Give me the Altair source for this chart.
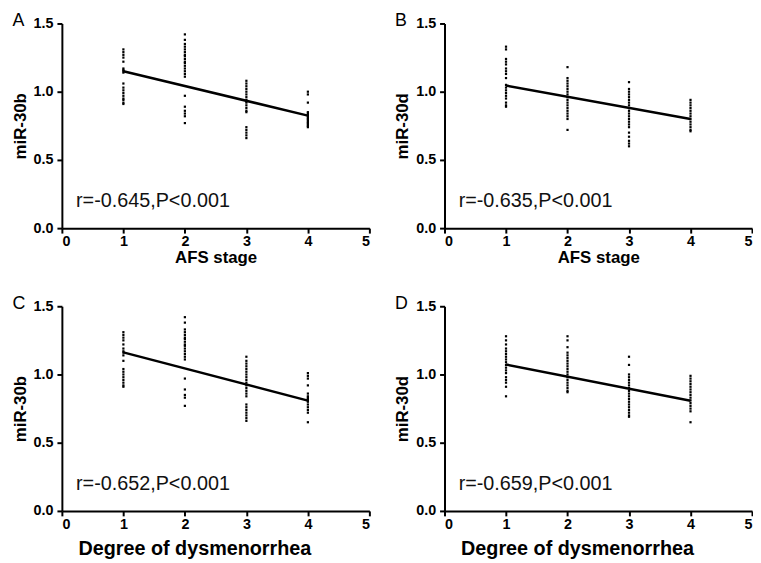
import altair as alt
import pandas as pd

stages = [1, 2, 3, 4]

# Panel A: miR-30b vs AFS stage
a_s1 = [1.31, 1.29, 1.27, 1.25, 1.22, 1.17, 1.16, 1.15, 1.14, 1.06, 1.03, 1.01, 0.99, 0.97, 0.95, 0.94, 0.92, 0.91]
a_s2 = [1.42, 1.38, 1.35, 1.33, 1.31, 1.29, 1.27, 1.26, 1.24, 1.22, 1.21, 1.19, 1.17, 1.15, 1.13, 1.11, 0.97, 0.89, 0.86, 0.84, 0.82, 0.77]
a_s3 = [1.08, 1.06, 1.04, 1.02, 1.00, 0.98, 0.96, 0.94, 0.93, 0.92, 0.90, 0.88, 0.86, 0.85, 0.74, 0.72, 0.70, 0.68, 0.66]
a_s4 = [1.00, 0.98, 0.92, 0.85, 0.84, 0.83, 0.82, 0.81, 0.80, 0.79, 0.78, 0.77, 0.76, 0.75, 0.74]
a_line = [1.15, 0.825]

# Panel B: miR-30d vs AFS stage
b_s1 = [1.33, 1.31, 1.24, 1.22, 1.20, 1.17, 1.15, 1.13, 1.10, 1.05, 1.03, 1.01, 0.99, 0.97, 0.95, 0.92, 0.90, 0.89]
b_s2 = [1.18, 1.10, 1.08, 1.06, 1.04, 1.02, 1.00, 0.98, 0.96, 0.94, 0.92, 0.90, 0.88, 0.86, 0.84, 0.82, 0.80, 0.72]
b_s3 = [1.07, 1.02, 1.00, 0.98, 0.96, 0.94, 0.92, 0.90, 0.88, 0.86, 0.84, 0.82, 0.80, 0.78, 0.76, 0.74, 0.70, 0.67, 0.64, 0.62, 0.60]
b_s4 = [0.94, 0.92, 0.90, 0.88, 0.86, 0.84, 0.82, 0.80, 0.78, 0.76, 0.74, 0.72, 0.71]
b_line = [1.045, 0.80]

# Panel C: miR-30b vs degree of dysmenorrhea
c_s1 = [1.31, 1.29, 1.27, 1.25, 1.22, 1.19, 1.17, 1.16, 1.14, 1.10, 1.04, 1.02, 1.00, 0.98, 0.96, 0.94, 0.92, 0.91]
c_s2 = [1.42, 1.38, 1.33, 1.31, 1.29, 1.27, 1.26, 1.24, 1.22, 1.21, 1.19, 1.17, 1.15, 1.13, 1.11, 0.97, 0.89, 0.85, 0.83, 0.77]
c_s3 = [1.13, 1.10, 1.08, 1.06, 1.04, 1.02, 1.00, 0.98, 0.96, 0.94, 0.92, 0.90, 0.88, 0.86, 0.84, 0.78, 0.76, 0.74, 0.72, 0.70, 0.68, 0.66]
c_s4 = [1.01, 0.99, 0.97, 0.92, 0.86, 0.84, 0.83, 0.82, 0.81, 0.80, 0.78, 0.76, 0.74, 0.72, 0.65]
c_line = [1.162, 0.808]

# Panel D: miR-30d vs degree of dysmenorrhea
d_s1 = [1.28, 1.25, 1.22, 1.19, 1.17, 1.15, 1.13, 1.11, 1.09, 1.07, 1.05, 1.03, 1.01, 0.98, 0.96, 0.94, 0.91, 0.84]
d_s2 = [1.28, 1.25, 1.20, 1.16, 1.14, 1.12, 1.10, 1.08, 1.06, 1.04, 1.02, 1.00, 0.98, 0.96, 0.94, 0.92, 0.90, 0.88, 0.87]
d_s3 = [1.13, 1.07, 1.00, 0.98, 0.96, 0.94, 0.92, 0.90, 0.88, 0.86, 0.84, 0.82, 0.80, 0.78, 0.76, 0.74, 0.72, 0.70, 0.69]
d_s4 = [0.99, 0.97, 0.95, 0.93, 0.91, 0.89, 0.87, 0.85, 0.83, 0.81, 0.79, 0.77, 0.75, 0.73, 0.65]
d_line = [1.073, 0.808]

letters = ["A", "B", "C", "D"]
y_titles = ["miR-30b", "miR-30d", "miR-30b", "miR-30d"]
x_titles = ["AFS stage", "AFS stage", "Degree of dysmenorrhea", "Degree of dysmenorrhea"]
stats = ["r=-0.645,P<0.001", "r=-0.635,P<0.001", "r=-0.652,P<0.001", "r=-0.659,P<0.001"]
groups = [[a_s1, a_s2, a_s3, a_s4], [b_s1, b_s2, b_s3, b_s4],
          [c_s1, c_s2, c_s3, c_s4], [d_s1, d_s2, d_s3, d_s4]]
lines = [a_line, b_line, c_line, d_line]
x_ticks = [0, 1, 2, 3, 4, 5]
y_ticks = [0.0, 0.5, 1.0, 1.5]
stat_pos = [0.23, 0.2]

FONT = "Liberation Sans"
x_title_size = [17, 17, 20, 20]
x_title_y = [30, 30, 38, 38]
x_title_x = [155.5, 155.5, 134, 134]


def panel(i):
    rows = [(s, v) for s, vals in zip(stages, groups[i]) for v in vals]
    df = pd.DataFrame(rows, columns=["x", "y"])
    xenc = alt.X("x:Q", scale=alt.Scale(domain=[0, 5], nice=False),
                 axis=alt.Axis(values=x_ticks, title=x_titles[i], format="d",
                               labelPadding=2, titleFontSize=x_title_size[i],
                               titleY=x_title_y[i], titleX=x_title_x[i],
                               titleBaseline="middle"))
    yenc = alt.Y("y:Q", scale=alt.Scale(domain=[0, 1.5], nice=False),
                 axis=alt.Axis(values=y_ticks, title=y_titles[i], format=".1f",
                               labelPadding=4, titleFontSize=17, titleX=-42,
                               titleBaseline="middle"))
    pts = alt.Chart(df).mark_square(size=5, color="black", opacity=1).encode(x=xenc, y=yenc)
    ldf = pd.DataFrame({"x": [stages[0], stages[-1]], "y": lines[i]})
    ln = alt.Chart(ldf).mark_line(color="black", strokeWidth=2.5).encode(x="x:Q", y="y:Q")
    tdf = pd.DataFrame({"x": [stat_pos[0]], "y": [stat_pos[1]], "t": [stats[i]]})
    txt = alt.Chart(tdf).mark_text(align="left", baseline="middle", fontSize=20,
                                   font=FONT, color="#111").encode(x="x:Q", y="y:Q", text="t:N")
    lt = alt.Chart(pd.DataFrame({"t": [letters[i]]})).mark_text(
        align="left", baseline="middle", fontSize=18, font=FONT, color="black"
    ).encode(x=alt.value(-50), y=alt.value(-2.5), text="t:N")
    return alt.layer(pts, ln, txt, lt).properties(width=311, height=207)


chart = alt.concat(
    panel(0), panel(1), panel(2), panel(3),
    columns=2, bounds="flush", spacing={"row": 79, "column": 76}
).properties(
    padding={"left": 3.5, "top": 0.5, "right": 0, "bottom": 0}
).configure_view(stroke=None).configure_axis(
    grid=False, domainColor="black", domainWidth=2, tickColor="black", tickWidth=2,
    tickSize=5, labelFont=FONT, labelFontWeight="bold", labelFontSize=14.5,
    labelColor="black", titleFont=FONT, titleFontWeight="bold",
    titleColor="black"
)

chart.save("out.html", embed_options={"renderer": "svg", "actions": False})
